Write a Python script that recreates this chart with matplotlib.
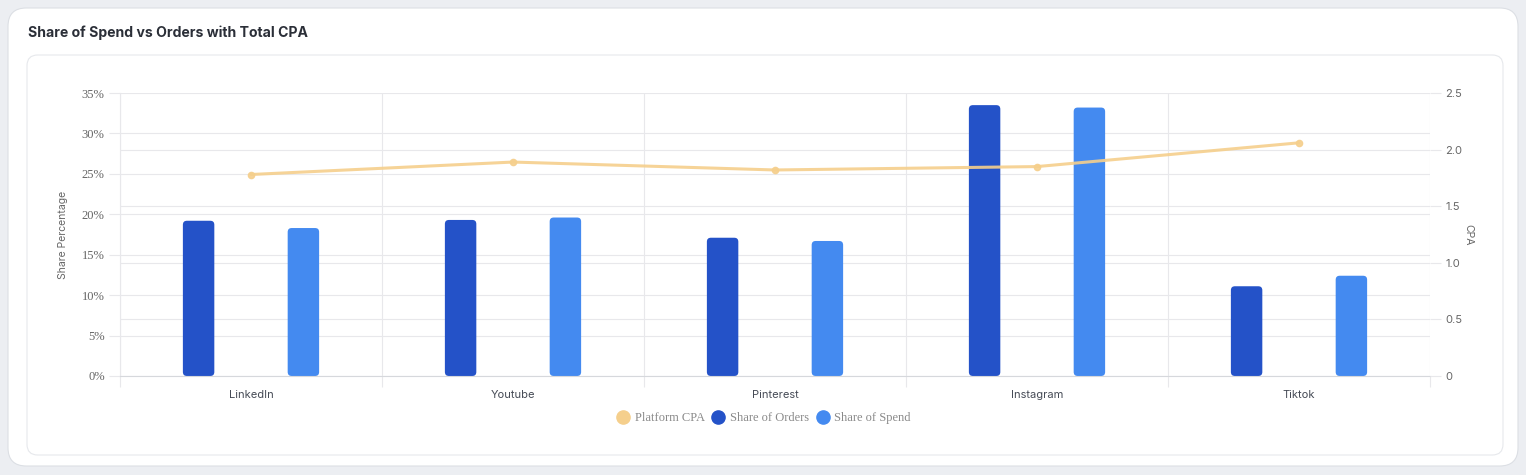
import matplotlib.pyplot as plt
import numpy as np
from matplotlib.patches import FancyBboxPatch
from matplotlib.lines import Line2D

# data
platforms = ['LinkedIn', 'Youtube', 'Pinterest', 'Instagram', 'Tiktok']
share_orders = [19.2, 19.3, 17.1, 33.5, 11.1]
share_spend = [18.3, 19.6, 16.7, 33.2, 12.4]
platform_cpa = [1.78, 1.89, 1.82, 1.85, 2.06]

c_orders = '#2452c8'
c_spend = '#448af0'
c_cpa = '#f5cf8c'
c_grid = '#e8e8eb'

W, H = 1526, 475
fig = plt.figure(figsize=(W / 100, H / 100), dpi=100)
fig.patch.set_facecolor('#eceef2')

# cards
fig.patches.append(FancyBboxPatch((8 / W, 9 / H), 1510 / W, 458 / H,
                                  boxstyle='round,pad=0,rounding_size=0.012',
                                  mutation_aspect=W / H, transform=fig.transFigure,
                                  facecolor='white', edgecolor='#dcdfe4', lw=0.8, zorder=-2))
fig.patches.append(FancyBboxPatch((27 / W, 20 / H), 1476 / W, 400 / H,
                                  boxstyle='round,pad=0,rounding_size=0.007',
                                  mutation_aspect=W / H, transform=fig.transFigure,
                                  facecolor='white', edgecolor='#e6e8ec', lw=0.8, zorder=-1))

fig.text(28 / W, 1 - 33 / H, 'Share of Spend vs Orders with Total CPA',
         fontsize=10.1, fontweight='bold', color='#2b2f38', family='Inter',
         ha='left', va='center')

left, right, top, bottom = 120, 1430, 93, 376
ax = fig.add_axes([left / W, 1 - bottom / H, (right - left) / W, (bottom - top) / H])
ax.set_facecolor('none')
ax2 = ax.twinx()

x = np.arange(len(platforms))
ax.set_xlim(-0.5, len(platforms) - 0.5)
ax.set_ylim(0, 35)
ax2.set_ylim(0, 2.5)

# grids
ax.set_yticks(np.arange(0, 36, 5))
ax.set_yticklabels([f'{v}%' for v in range(0, 36, 5)])
ax.yaxis.grid(True, color=c_grid, lw=0.8)
for v in np.arange(0.5, 2.5, 0.5):
    ax.axhline(v / 2.5 * 35, color=c_grid, lw=0.8, zorder=0.5)
ax.set_xticks(x)
ax.set_xticklabels(platforms)
ax.set_xticks(np.arange(-0.5, len(platforms)), minor=True)
ax.xaxis.grid(True, which='minor', color=c_grid, lw=0.8)
ax.set_axisbelow(True)
ax.tick_params(axis='x', which='major', length=0, pad=10, labelsize=8, labelcolor='#454a55',
               labelfontfamily='Inter')
ax.tick_params(axis='x', which='minor', length=8, color=c_grid, width=0.8)
ax.tick_params(axis='y', length=8, color=c_grid, width=0.8, pad=3, labelsize=9,
               labelcolor='#666666', labelfontfamily='Liberation Serif')

ax2.set_yticks(np.arange(0, 2.6, 0.5))
ax2.set_yticklabels(['0', '0.5', '1.0', '1.5', '2.0', '2.5'])
ax2.tick_params(axis='y', length=8, color=c_grid, width=0.8, pad=3, labelsize=8,
                labelcolor='#666666', labelfontfamily='Inter')

for a in (ax, ax2):
    for s in a.spines.values():
        s.set_visible(False)
ax.spines['bottom'].set_visible(True)
ax.spines['bottom'].set_color('#d6d8dc')
ax.spines['left'].set_visible(True)
ax.spines['left'].set_color(c_grid)

ax.set_ylabel('Share Percentage', fontsize=7.5, color='#666666', family='Inter', labelpad=10)
ax2.set_ylabel('CPA', fontsize=7.5, color='#666666', family='Inter', rotation=270,
               labelpad=8)

# rounded bars
bw, off = 0.12, 0.2
px_x = (right - left) / (len(platforms))
px_y = (bottom - top) / 35
r = 4 / px_x
aspect = (4 / px_y) / r
bars_o = ax.bar(x - off, share_orders, bw, color='none')
bars_s = ax.bar(x + off, share_spend, bw, color='none')
for bars, col in ((bars_o, c_orders), (bars_s, c_spend)):
    for b in bars:
        ax.add_patch(FancyBboxPatch((b.get_x(), b.get_y()), b.get_width(), b.get_height(),
                                    boxstyle=f'round,pad=0,rounding_size={r}',
                                    mutation_aspect=aspect, facecolor=col,
                                    edgecolor='none', zorder=2))

ax2.plot(x, platform_cpa, color=c_cpa, lw=2.2, marker='o', ms=4.5, alpha=0.9,
         solid_capstyle='round', zorder=3)

handles = [Line2D([], [], ls='none', marker='o', ms=9.5, color=c_cpa),
           Line2D([], [], ls='none', marker='o', ms=9.5, color=c_orders),
           Line2D([], [], ls='none', marker='o', ms=9.5, color=c_spend)]
leg = fig.legend(handles, ['Platform CPA', 'Share of Orders', 'Share of Spend'],
                 loc='center', bbox_to_anchor=(764 / W, 1 - 418 / H), ncol=3,
                 frameon=False, handletextpad=0.45, columnspacing=0.55, handlelength=1.0,
                 prop={'family': 'Liberation Serif', 'size': 9})
for t in leg.get_texts():
    t.set_color('#8a8a8a')

fig.savefig('out.png', dpi=100, facecolor=fig.get_facecolor())
